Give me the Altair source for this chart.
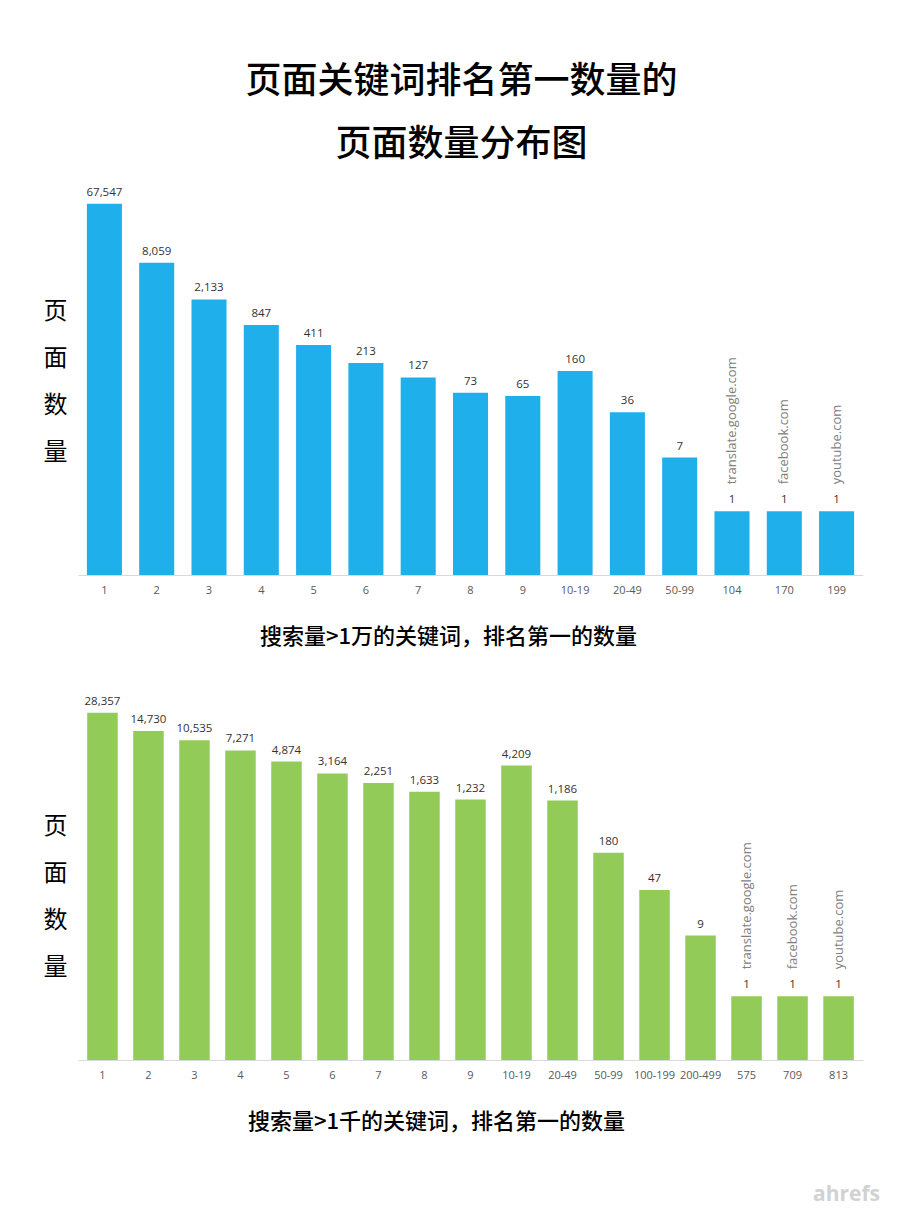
import altair as alt
import pandas as pd

# ---- data ----
top_cats = ["1", "2", "3", "4", "5", "6", "7", "8", "9", "10-19", "20-49", "50-99", "104", "170", "199"]
top_vals = [67547, 8059, 2133, 847, 411, 213, 127, 73, 65, 160, 36, 7, 1, 1, 1]
top_sites = [""] * 12 + ["translate.google.com", "facebook.com", "youtube.com"]

bot_cats = ["1", "2", "3", "4", "5", "6", "7", "8", "9", "10-19", "20-49", "50-99",
            "100-199", "200-499", "575", "709", "813"]
bot_vals = [28357, 14730, 10535, 7271, 4874, 3164, 2251, 1633, 1232, 4209, 1186, 180, 47, 9, 1, 1, 1]
bot_sites = [""] * 14 + ["translate.google.com", "facebook.com", "youtube.com"]

main_title = ["页面关键词排名第一数量的", "页面数量分布图"]
top_caption = "搜索量>1万的关键词，排名第一的数量"
bot_caption = "搜索量>1千的关键词，排名第一的数量"
y_title = ["页", "面", "数", "量"]

CJK = "Noto Sans CJK SC"
LAT = "Open Sans"
W = 785
H = 382
BASE_VAL = 0.1


def panel(cats, vals, sites, color, caption, p_in, p_out, cap_x, ytitle_y, title=None):
    df = pd.DataFrame({"cat": cats, "val": vals, "site": sites})
    x = alt.X(
        "cat:N", sort=cats,
        scale=alt.Scale(paddingInner=p_in, paddingOuter=p_out),
        axis=alt.Axis(
            title=caption, labelAngle=0, ticks=False, domainColor="#d9d9d9",
            labelFont=LAT, labelFontSize=11, labelColor="#595959", labelPadding=9,
            titleFont=CJK, titleFontSize=22, titleFontWeight=500, titleColor="#000000",
            titleX=cap_x, titleY=61, titleAlign="center", titleBaseline="middle",
        ),
    )
    y = alt.Y(
        "val:Q",
        scale=alt.Scale(type="log", domain=[BASE_VAL, 100000], nice=False),
        axis=alt.Axis(
            title=y_title, labels=False, ticks=False, domain=False, grid=False,
            titleAngle=0, titleX=-23, titleY=ytitle_y, titleAlign="center",
            titleBaseline="middle", titleLineHeight=47, titleFont=CJK,
            titleFontSize=24, titleFontWeight="normal", titleColor="#000000",
        ),
    )
    base = alt.Chart(df).encode(x=x, y=y)
    bars = base.mark_bar(color=color).encode(y2=alt.datum(BASE_VAL))
    labels = base.mark_text(
        baseline="bottom", dy=-6, font=LAT, fontSize=11.5, color="#333333"
    ).encode(text=alt.Text("val:Q", format=","))
    site_lbl = base.transform_filter("datum.site != ''").mark_text(
        angle=270, align="left", baseline="middle", dx=27, font=LAT,
        fontSize=13, color="#808080"
    ).encode(text="site:N")
    ch = alt.layer(bars, labels, site_lbl).properties(width=W, height=H)
    if title is not None:
        ch = ch.properties(title=title)
    return ch


top = panel(top_cats, top_vals, top_sites, "#1FAFEB", top_caption, 0.33, 0.17, 370, 118)
bot = panel(bot_cats, bot_vals, bot_sites, "#93CB59", bot_caption, 0.337, 0.2, 358, 148,
            title=alt.TitleParams("ahrefs", orient="bottom", anchor="end", font=LAT,
                                   fontSize=21, fontWeight="bold", color="#d2d2d2",
                                   offset=52, dx=17))

chart = alt.vconcat(top, bot, spacing=31).properties(
    title=alt.TitleParams(main_title, font=CJK, fontSize=36, fontWeight=500,
                          color="#000000", lineHeight=63, anchor="middle",
                          offset=23),
    padding={"left": 43, "top": 63, "right": 10, "bottom": 10},
    background="white",
).configure_view(stroke=None).configure_axis(grid=False)

chart.save("out.html", embed_options={"renderer": "svg", "actions": False})
